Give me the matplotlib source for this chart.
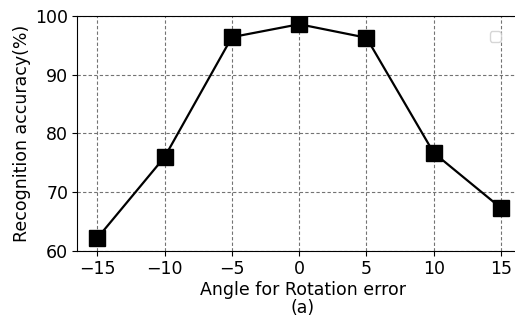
import matplotlib
matplotlib.use("Agg")
import matplotlib.pyplot as plt

# rotation angle vs recognition accuracy
angles = [-15, -10, -5, 0, 5, 10, 15]
accuracy = [62.2, 76.0, 96.4, 98.6, 96.3, 76.7, 67.3]

fig = plt.figure(figsize=(5.15, 3.2), dpi=100)
ax = fig.add_axes([0.15, 0.216, 0.875, 0.734])

ax.plot(angles, accuracy, color="black", linewidth=1.6,
        marker="s", markersize=11)

ax.set_xlim(-16.5, 17.0)
ax.set_ylim(60, 100)
ax.set_xticks(angles)
ax.set_yticks([60, 70, 80, 90, 100])
ax.tick_params(labelsize=12.5, pad=3)
ax.grid(True, linestyle=(0, (3, 2)), color="0.45", linewidth=0.8)
ax.spines["right"].set_visible(False)  # cropped off in the original

ax.set_xlabel("Angle for Rotation error\n(a)", fontsize=12.5, labelpad=2, linespacing=1.05)
ax.set_ylabel("Recognition accuracy(%)", fontsize=12.5, labelpad=3)

# the original shows an empty legend frame
ax.legend(handles=[], loc="upper right", bbox_to_anchor=(0.955, 0.965))

fig.savefig("out.png", dpi=100)
